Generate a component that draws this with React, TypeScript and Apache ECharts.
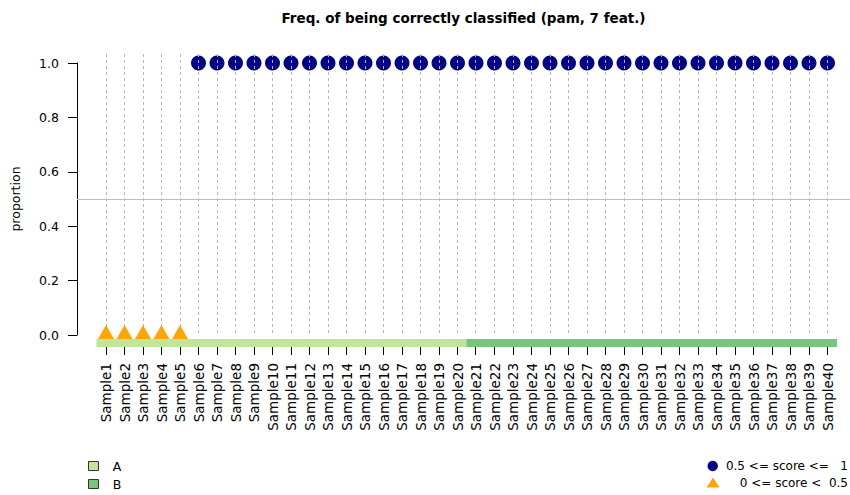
import React, { useEffect, useRef } from "react";
import * as echarts from "echarts";

const samples = [
  "Sample1", "Sample2", "Sample3", "Sample4", "Sample5", "Sample6", "Sample7", "Sample8", "Sample9", "Sample10",
  "Sample11", "Sample12", "Sample13", "Sample14", "Sample15", "Sample16", "Sample17", "Sample18", "Sample19", "Sample20",
  "Sample21", "Sample22", "Sample23", "Sample24", "Sample25", "Sample26", "Sample27", "Sample28", "Sample29", "Sample30",
  "Sample31", "Sample32", "Sample33", "Sample34", "Sample35", "Sample36", "Sample37", "Sample38", "Sample39", "Sample40",
];
const proportion = [
  0, 0, 0, 0, 0, 1, 1, 1, 1, 1,
  1, 1, 1, 1, 1, 1, 1, 1, 1, 1,
  1, 1, 1, 1, 1, 1, 1, 1, 1, 1,
  1, 1, 1, 1, 1, 1, 1, 1, 1, 1,
];
const sampleClass = [
  "A", "A", "A", "A", "A", "A", "A", "A", "A", "A",
  "A", "A", "A", "A", "A", "A", "A", "A", "A", "A",
  "B", "B", "B", "B", "B", "B", "B", "B", "B", "B",
  "B", "B", "B", "B", "B", "B", "B", "B", "B", "B",
];
const classNames = ["A", "B"];
const classColors: Record<string, string> = { A: "#C2E699", B: "#78C679" };
const threshold = 0.5;
const guideTop = 1.033;
const highLabel = "0.5 <= score <=   1";
const lowLabel = "0 <= score <  0.5";
const titleText = "Freq. of being correctly classified (pam, 7 feat.)";

const FONT = "DejaVu Sans";
const GRID_LEFT = 96.75;
const AXIS_OFFSET = 19.75;
const crisp = (v: number) => Math.round(v - 0.5) + 0.5;

export default function App() {
  const ref = useRef<HTMLDivElement>(null);
  useEffect(() => {
    if (!ref.current) return;
    const chart = echarts.init(ref.current, null, { renderer: "svg" });
    const option: any = {
      animation: false,
      backgroundColor: "#ffffff",
      grid: { left: GRID_LEFT, right: 13.25, top: 63, bottom: 160, containLabel: false },
      xAxis: {
        type: "category",
        data: samples,
        boundaryGap: true,
        axisLine: { show: false },
        axisTick: { show: false },
        splitLine: { show: false },
        axisLabel: {
          rotate: 90,
          margin: 28,
          interval: 0,
          color: "#000",
          fontSize: 13.5,
          fontFamily: FONT,
        },
      },
      yAxis: {
        type: "value",
        min: 0,
        max: 1,
        interval: 0.2,
        offset: AXIS_OFFSET,
        name: "proportion",
        nameLocation: "middle",
        nameGap: 55,
        nameTextStyle: { color: "#000", fontSize: 12.5, fontFamily: FONT },
        axisLine: { show: true, lineStyle: { color: "#000", width: 1 } },
        axisTick: { show: true, length: 9, lineStyle: { color: "#000" } },
        splitLine: { show: false },
        axisLabel: {
          margin: 18,
          color: "#000",
          fontSize: 12.5,
          fontFamily: FONT,
          formatter: (v: number) => v.toFixed(1),
        },
      },
      series: [
        {
          type: "scatter",
          name: highLabel,
          data: proportion.map((p) => (p >= threshold ? p : "-")),
          symbol: "circle",
          symbolSize: 15,
          itemStyle: { color: "#00008B", opacity: 1 },
          z: 2,
        },
        {
          type: "custom",
          name: "guides",
          data: samples.map((_, i) => [i, guideTop]),
          clip: false,
          silent: true,
          z: 3,
          renderItem: (params: any, api: any) => {
            const i = api.value(0);
            const top = api.coord([i, guideTop]);
            const bottom = api.coord([i, 0]);
            const x = crisp(top[0]);
            return {
              type: "line",
              shape: { x1: x, y1: Math.round(top[1]), x2: x, y2: Math.round(bottom[1]) },
              style: { stroke: "#B8B8B8", lineWidth: 1, lineDash: [3, 3] },
            };
          },
        },
        {
          type: "custom",
          name: "half",
          data: [[0, threshold]],
          clip: false,
          silent: true,
          z: 3,
          renderItem: (params: any, api: any) => {
            const y = crisp(api.coord([0, threshold])[1]);
            const x1 = params.coordSys.x - AXIS_OFFSET;
            return {
              type: "line",
              shape: { x1, y1: y, x2: api.getWidth(), y2: y },
              style: { stroke: "#BEBEBE", lineWidth: 1 },
            };
          },
        },
        {
          type: "scatter",
          name: lowLabel,
          data: proportion.map((p) => (p < threshold ? p : "-")),
          symbol: "triangle",
          symbolSize: [16, 14],
          symbolOffset: [0, -3],
          itemStyle: { color: "#FFA500", opacity: 1 },
          z: 4,
        },
        {
          type: "custom",
          name: "class",
          data: samples.map((_, i) => [i, 0]),
          clip: false,
          silent: true,
          z: 5,
          renderItem: (params: any, api: any) => {
            const i = api.value(0);
            const p = api.coord([i, 0]);
            const w = api.size([1, 0])[0];
            const cls = sampleClass[params.dataIndex];
            const x = crisp(p[0]);
            return {
              type: "group",
              children: [
                {
                  type: "rect",
                  shape: { x: p[0] - w / 2 - 0.3, y: p[1] + 4, width: w + 0.6, height: 8 },
                  style: { fill: classColors[cls] },
                },
                {
                  type: "line",
                  shape: { x1: x, y1: p[1] + 12, x2: x, y2: p[1] + 20 },
                  style: { stroke: "#000", lineWidth: 1 },
                },
              ],
            };
          },
        },
      ],
      graphic: [
        {
          type: "text",
          x: 463.5,
          y: 17.5,
          style: {
            text: titleText,
            align: "center",
            verticalAlign: "middle",
            fontFamily: FONT,
            fontWeight: "bold",
            fontSize: 13.5,
            fill: "#000",
          },
        },
        ...classNames.flatMap((c, k) => [
          {
            type: "rect",
            shape: { x: 88.5, y: 461.5 + k * 18, width: 10, height: 9 },
            style: { fill: classColors[c], stroke: "#333", lineWidth: 1 },
          },
          {
            type: "text",
            x: 112.7,
            y: 466.5 + k * 18,
            style: { text: c, align: "left", verticalAlign: "middle", fontFamily: FONT, fontSize: 12.5, fill: "#000" },
          },
        ]),
        {
          type: "circle",
          shape: { cx: 712.7, cy: 466, r: 5.2 },
          style: { fill: "#00008B" },
        },
        {
          type: "text",
          x: 848,
          y: 466,
          style: { text: highLabel, align: "right", verticalAlign: "middle", fontFamily: FONT, fontSize: 12, fill: "#000" },
        },
        {
          type: "polygon",
          shape: { points: [[713, 477.5], [719.5, 487.5], [706.5, 487.5]] },
          style: { fill: "#FFA500" },
        },
        {
          type: "text",
          x: 848,
          y: 483,
          style: { text: lowLabel, align: "right", verticalAlign: "middle", fontFamily: FONT, fontSize: 12, fill: "#000" },
        },
      ],
    };
    chart.setOption(option);
    return () => chart.dispose();
  }, []);
  return (
    <div
      ref={ref}
      style={{ position: "fixed", left: 0, top: 0, width: 850, height: 495, background: "#fff" }}
    />
  );
}
